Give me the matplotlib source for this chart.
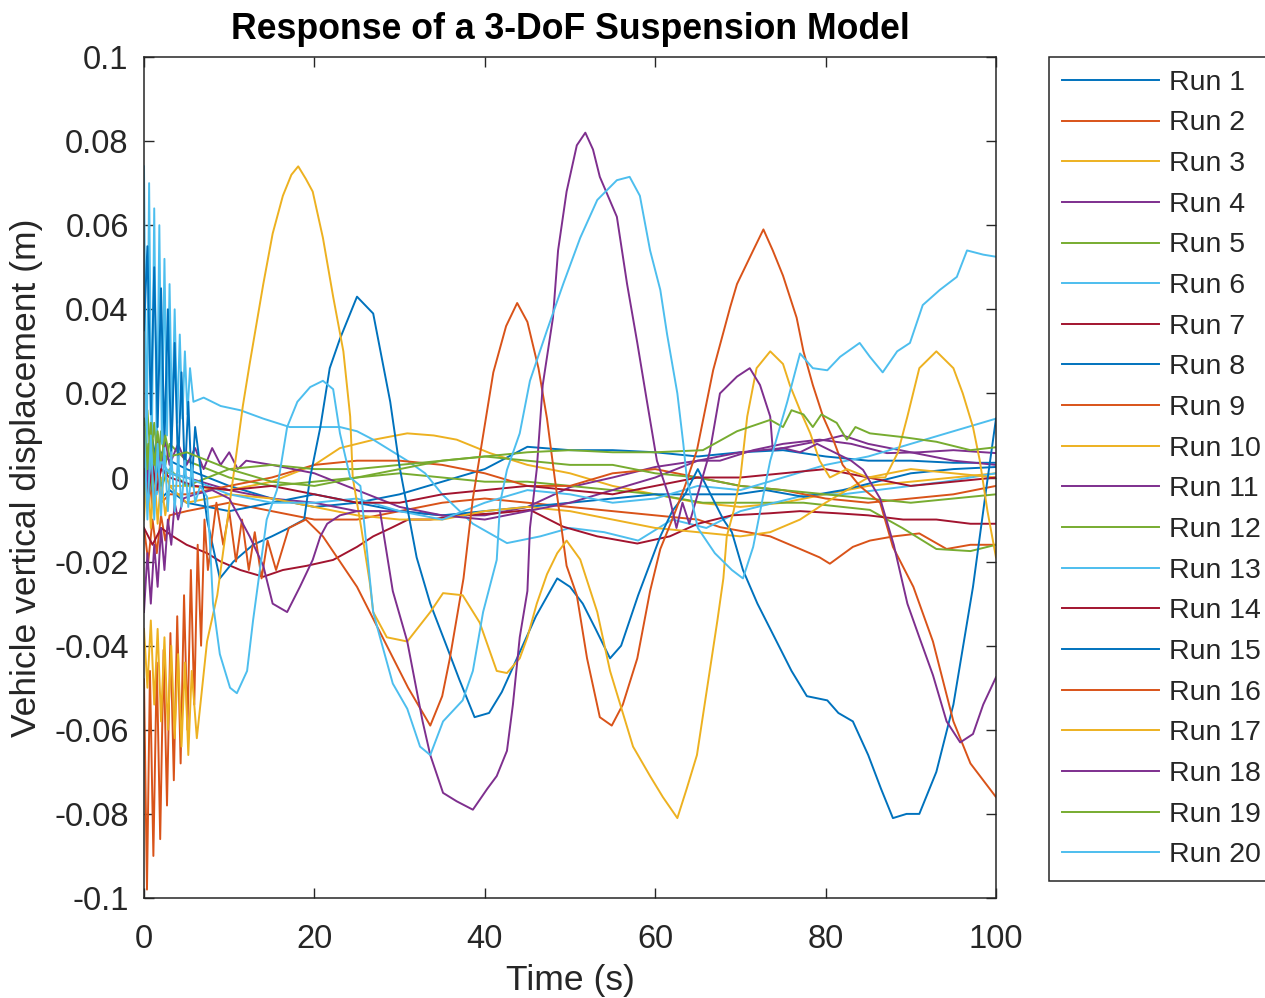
import matplotlib
matplotlib.use('Agg')
import matplotlib.pyplot as plt

# MATLAB default line colours
colors = ['#0072BD', '#D95319', '#EDB120', '#7E2F8E', '#77AC30', '#4DBEEE', '#A2142F']

# time (s) and displacement (m), one pair per run
t1 = [0, 0.5, 1, 1.5, 2, 3, 5, 10, 15, 20, 25, 30, 35, 40, 45, 50, 55, 60, 65, 70, 75, 80, 85, 90, 95, 100]
y1 = [0.008, 0.002, 0.009, 0.003, 0.006, 0.004, 0.002, -0.002, -0.005, -0.007, -0.006, -0.004, -0.001, 0.002, 0.0073,
      0.0065, 0.0065, 0.006, 0.005, 0.006, 0.0065, 0.005, 0.004, 0.004, 0.0035, 0.0035]

t2 = [0, 0.5, 1, 1.5, 2, 2.5, 3, 5, 10, 15, 20, 25, 30, 35, 40, 45, 50, 55, 60, 65, 67.6, 73.5, 77, 79.3, 80.5, 83.2,
      85.2, 88, 91, 94.2, 97, 100]
y2 = [-0.012, -0.020, -0.010, -0.018, -0.009, -0.015, -0.009, -0.008, -0.006, -0.008, -0.010, -0.010, -0.008, -0.006,
      -0.005, -0.006, -0.007, -0.008, -0.009, -0.010, -0.0118, -0.014, -0.017, -0.019, -0.0205, -0.0165, -0.015, -0.014,
      -0.0133, -0.017, -0.016, -0.016]

t3 = [0, 0.4, 0.8, 1.2, 1.6, 2, 2.5, 3, 5, 10, 15, 20, 23, 27, 30.9, 34, 36.7, 40.6, 45, 50, 55, 60, 65, 70, 75, 80, 85,
      90, 95, 100]
y3 = [0.002, -0.006, 0.004, -0.005, 0.003, -0.004, 0.001, -0.002, -0.002, -0.003, -0.001, 0.003, 0.007, 0.009, 0.0105,
      0.010, 0.009, 0.0058, 0.003, 0.001, -0.002, -0.004, -0.006, -0.007, -0.006, -0.004, -0.002, -0.001, 0.0, 0.001]

t4 = [0, 0.5, 1, 1.5, 2, 3, 5, 10, 15, 20, 25, 30, 35, 40, 45, 50, 55, 60, 65, 67.6, 71.5, 75, 79.3, 83, 87.2, 91, 95, 100]
y4 = [0.004, -0.004, 0.003, -0.003, 0.002, 0.001, 0.0, -0.003, -0.005, -0.006, -0.008, -0.008, -0.009, -0.009, -0.007,
      -0.0023, 0.0, 0.0025, 0.004, 0.004, 0.0065, 0.008, 0.009, 0.008, 0.0058, 0.006, 0.0065, 0.0058]

t5 = [0, 0.4, 0.8, 1.2, 1.6, 2, 2.5, 3, 5, 10, 15, 20, 25, 30, 35, 40, 45, 50, 55, 60, 65.6, 70, 77.4, 85.2, 89, 93, 97, 100]
y5 = [0.008, 0.016, 0.004, 0.013, 0.003, 0.011, 0.003, 0.008, 0.004, 0.0, -0.002, -0.001, 0.0, 0.001, 0.0, -0.001,
      -0.001, -0.002, -0.003, -0.004, -0.006, -0.006, -0.006, -0.0077, -0.012, -0.017, -0.0175, -0.016]

t6 = [0, 0.3, 0.6, 0.9, 1.2, 1.5, 1.8, 2.1, 2.4, 2.7, 3.0, 3.3, 3.6, 3.9, 4.2, 4.5, 4.8, 5.1, 5.4, 5.8, 7, 9, 11.3, 14,
      17.1, 20, 23, 25, 26.9, 28.5, 30.9, 33, 35, 38.6, 42.6, 46.5, 50, 54, 58, 62, 66, 70, 74, 78, 82, 86, 90, 94, 97, 100]
y6 = [0.074, 0.002, 0.070, 0.004, 0.064, 0.006, 0.060, 0.008, 0.052, 0.010, 0.046, 0.012, 0.040, 0.013, 0.034, 0.014,
      0.030, 0.015, 0.026, 0.018, 0.019, 0.017, 0.016, 0.014, 0.012, 0.012, 0.012, 0.011, 0.009, 0.007, 0.004, 0.001,
      -0.004, -0.011, -0.0156, -0.014, -0.012, -0.013, -0.015, -0.010, -0.012, -0.008, -0.006, -0.004, -0.004, -0.003,
      -0.002, -0.001, 0.0, 0.001]

t7 = [0, 1, 2, 3.4, 5, 7.4, 9, 11.3, 14, 16.3, 19.1, 22.2, 25, 26.9, 29, 31, 33.6, 37, 41.4, 45.3, 49.2, 53.2, 57.9,
      61.7, 65, 69, 73.5, 77, 81.3, 85, 89.1, 93, 97, 100]
y7 = [-0.012, -0.016, -0.012, -0.014, -0.016, -0.018, -0.020, -0.022, -0.0236, -0.022, -0.021, -0.0196, -0.0165, -0.014,
      -0.012, -0.010, -0.010, -0.009, -0.0085, -0.0077, -0.0117, -0.014, -0.0157, -0.014, -0.011, -0.009, -0.0085,
      -0.008, -0.0085, -0.009, -0.010, -0.010, -0.011, -0.011]

t8 = [0, 0.5, 1, 1.5, 2, 3, 5, 10, 15, 20, 25, 30, 35, 40, 45, 50, 55, 60, 65, 69.6, 73, 77.4, 82, 86, 90, 95, 100]
y8 = [-0.004, 0.006, -0.006, 0.004, -0.005, -0.003, -0.006, -0.008, -0.006, -0.004, -0.006, -0.008, -0.009, -0.008,
      -0.007, -0.006, -0.005, -0.004, -0.004, -0.004, -0.003, -0.0046, -0.003, -0.001, 0.001, 0.002, 0.0025]

t9 = [0, 0.5, 1, 1.5, 2, 3, 5, 10, 15, 20, 25, 30, 35, 40, 45, 50, 55, 60, 65, 70, 75, 80, 85, 90, 95, 100]
y9 = [-0.006, 0.002, -0.007, 0.001, -0.006, -0.004, -0.004, -0.002, 0.0, 0.003, 0.004, 0.004, 0.003, 0.001, -0.002,
      -0.002, 0.001, 0.002, 0.0, -0.002, -0.003, -0.005, -0.006, -0.005, -0.004, -0.002]

t10 = [0, 0.4, 0.8, 1.2, 1.6, 2, 2.5, 3, 5, 10, 15, 20, 25, 30, 35, 40, 45, 50, 55, 60, 65, 70, 73.5, 77, 80, 85, 90,
       95, 100]
y10 = [-0.010, 0.004, -0.012, 0.002, -0.011, 0.0, -0.009, -0.002, -0.006, -0.004, -0.005, -0.007, -0.009, -0.010,
       -0.010, -0.008, -0.007, -0.008, -0.010, -0.012, -0.013, -0.014, -0.013, -0.010, -0.006, 0.0, 0.002, 0.001, 0.0]

t11 = [0, 0.4, 0.8, 1.2, 1.6, 2, 2.5, 3, 4, 5, 6, 7, 8, 9, 10, 11, 12, 15, 20, 25, 30, 35, 40, 45, 50, 55, 60, 65, 70,
       75, 80, 82, 85, 90, 95, 100]
y11 = [0.012, -0.002, 0.011, 0.0, 0.010, 0.002, 0.009, 0.003, 0.008, 0.003, 0.007, 0.002, 0.007, 0.003, 0.006, 0.002,
       0.004, 0.003, 0.001, -0.003, -0.007, -0.009, -0.010, -0.008, -0.006, -0.003, 0.0, 0.004, 0.006, 0.007, 0.009,
       0.010, 0.008, 0.006, 0.004, 0.003]

t12 = [0, 0.5, 1, 1.5, 2, 3, 5, 10, 15, 20, 25, 30, 35, 40, 45, 50, 55, 60, 65, 70, 75, 80, 85, 90, 95, 100]
y12 = [-0.004, 0.008, -0.003, 0.006, -0.002, 0.002, -0.002, 0.002, 0.003, 0.002, 0.002, 0.003, 0.004, 0.005, 0.004,
       0.003, 0.003, 0.001, 0.0, -0.002, -0.003, -0.004, -0.005, -0.006, -0.005, -0.004]

t13 = [0, 0.5, 1, 1.5, 2, 3, 5, 10, 15, 20, 25, 30, 35, 40, 45, 50, 55, 60, 65, 70, 75, 80, 85, 90, 95, 100]
y13 = [0.004, -0.006, 0.006, -0.004, 0.004, 0.001, 0.0, -0.004, -0.006, -0.006, -0.005, -0.008, -0.010, -0.006, -0.003,
       -0.004, -0.006, -0.005, -0.002, -0.003, 0.0, 0.003, 0.005, 0.008, 0.011, 0.014]

t14 = [0, 0.5, 1, 1.5, 2, 3, 6, 10, 15, 20, 25, 30, 35, 40, 45, 50, 55, 60, 65, 70, 75, 80, 85, 90, 95, 100]
y14 = [0.002, -0.004, 0.003, -0.003, 0.002, 0.0, -0.002, -0.003, -0.002, -0.004, -0.006, -0.006, -0.004, -0.003,
       -0.002, -0.003, -0.004, -0.002, 0.0, 0.0, 0.001, 0.002, 0.0, -0.002, -0.001, 0.0]

t15 = [0, 0.4, 0.8, 1.2, 1.6, 2.0, 2.4, 2.8, 3.2, 3.6, 4.0, 4.4, 4.8, 5.2, 5.6, 6.0, 7.4, 8.9, 10.5, 12.8, 15, 17, 18.8,
       19.5, 20.7, 21.8, 23, 25, 26.9, 28.9, 30, 32, 33.6, 35.5, 37, 38.8, 40.5, 42, 44, 46, 48.5, 50, 51.5, 53, 54.7,
       56, 58, 60.6, 62, 63.5, 65, 66.5, 68, 69, 70.3, 72, 74, 76, 77.8, 80.2, 81.5, 83.2, 85, 86.5, 87.9, 89.5, 91, 93,
       95, 97.3, 98.9, 100]
y15 = [0.035, 0.055, 0.015, 0.050, 0.012, 0.045, 0.008, 0.040, 0.005, 0.032, 0.002, 0.025, 0.0, 0.018, -0.002, 0.012,
       -0.010, -0.024, -0.020, -0.016, -0.014, -0.012, -0.010, 0.0, 0.012, 0.026, 0.033, 0.043, 0.039, 0.018, 0.0025,
       -0.019, -0.030, -0.040, -0.048, -0.057, -0.056, -0.051, -0.042, -0.033, -0.024, -0.026, -0.030, -0.036, -0.043,
       -0.040, -0.028, -0.014, -0.008, -0.004, 0.002, -0.004, -0.010, -0.013, -0.022, -0.030, -0.038, -0.046, -0.052,
       -0.053, -0.056, -0.058, -0.066, -0.074, -0.081, -0.080, -0.080, -0.070, -0.054, -0.026, -0.002, 0.014]

t16 = [0, 0.35, 0.7, 1.1, 1.5, 1.9, 2.3, 2.7, 3.1, 3.5, 3.9, 4.3, 4.7, 5.1, 5.5, 5.9, 6.3, 6.7, 7.1, 7.5, 8.5, 9.3, 10,
       10.8, 11.5, 12.3, 13, 13.8, 14.5, 15.5, 17, 19, 21, 23, 25, 27, 29, 31, 33.6, 35, 35.9, 37.5, 38.6, 39.8, 41,
       42.5, 43.8, 45, 46.3, 47.3, 48.2, 49.6, 50.8, 52, 53.5, 54.9, 56.2, 57.9, 59.4, 60.6, 62, 63.5, 64.9, 66.8, 68.8,
       69.6, 71.5, 72.7, 73.8, 75, 76.6, 77.4, 78.5, 79.7, 80.9, 82, 84, 86.4, 87.9, 90.3, 92.6, 95, 97, 98.5, 100]
y16 = [-0.048, -0.098, -0.046, -0.090, -0.044, -0.086, -0.041, -0.078, -0.037, -0.072, -0.033, -0.068, -0.028, -0.060,
       -0.022, -0.054, -0.016, -0.040, -0.010, -0.022, -0.006, -0.016, -0.008, -0.020, -0.010, -0.022, -0.013, -0.024,
       -0.015, -0.022, -0.012, -0.010, -0.014, -0.020, -0.026, -0.034, -0.042, -0.050, -0.059, -0.052, -0.043, -0.024,
       -0.005, 0.010, 0.025, 0.036, 0.0415, 0.037, 0.026, 0.014, 0.0, -0.021, -0.028, -0.043, -0.057, -0.059, -0.054,
       -0.043, -0.027, -0.017, -0.010, -0.002, 0.0065, 0.0255, 0.0405, 0.046, 0.054, 0.059, 0.054, 0.048, 0.038, 0.030,
       0.022, 0.0145, 0.009, 0.003, -0.002, -0.006, -0.0165, -0.026, -0.039, -0.058, -0.068, -0.072, -0.076]

t17 = [0, 0.4, 0.8, 1.2, 1.6, 2.0, 2.4, 2.8, 3.2, 3.6, 4.0, 4.4, 4.8, 5.2, 5.6, 6.2, 7.4, 8.6, 9.8, 10.9, 11.6, 12.4,
       14, 15.1, 16.3, 17.3, 18.1, 19, 19.8, 21, 22.2, 23.4, 24.2, 24.5, 25.5, 26.5, 26.9, 28.5, 30.9, 33.6, 35.1, 37.4,
       39.4, 41.4, 42.6, 44.1, 45, 46.1, 47.3, 48.5, 49.6, 51.2, 53.2, 54.7, 55.9, 57.4, 59.4, 60.9, 62.6, 63.7, 64.9,
       66.1, 67.3, 68, 68.4, 69.2, 70, 70.8, 71.9, 73.5, 75, 75.8, 77, 78.2, 79.3, 80.5, 82.5, 85, 87, 88.5, 89.6, 91,
       93, 95, 96.1, 97.3, 98.1, 99, 100]
y17 = [-0.036, -0.050, -0.034, -0.054, -0.036, -0.058, -0.038, -0.060, -0.040, -0.062, -0.042, -0.064, -0.044, -0.066,
       -0.046, -0.062, -0.039, -0.028, -0.010, 0.0065, 0.017, 0.027, 0.046, 0.058, 0.067, 0.072, 0.074, 0.071, 0.068,
       0.057, 0.043, 0.030, 0.0145, 0.0, -0.012, -0.025, -0.032, -0.038, -0.039, -0.032, -0.0275, -0.028, -0.0345,
       -0.046, -0.0465, -0.043, -0.038, -0.030, -0.023, -0.018, -0.015, -0.0195, -0.032, -0.046, -0.054, -0.064, -0.071,
       -0.076, -0.081, -0.074, -0.066, -0.050, -0.034, -0.024, -0.014, -0.008, 0.0, 0.0145, 0.026, 0.030, 0.027, 0.022,
       0.016, 0.0105, 0.004, 0.0, 0.002, 0.0, 0.0, 0.006, 0.0145, 0.026, 0.030, 0.026, 0.020, 0.012, 0.004, -0.008,
       -0.019]

t18 = [0, 0.4, 0.8, 1.2, 1.6, 2.0, 2.4, 2.8, 3.2, 3.6, 4.0, 4.6, 6, 8, 10, 12.4, 14, 15.1, 16.8, 18.3, 19.8, 20.7, 21.5,
       23, 25, 27.7, 29.2, 30.9, 32.7, 33.6, 35.1, 36.7, 38.6, 40.3, 41.4, 42.6, 43.3, 44.1, 45, 45.3, 46.1, 46.8, 48,
       48.6, 49.6, 50.8, 51.8, 52.7, 53.5, 55.5, 56.7, 57.9, 59, 60.2, 61.7, 62.5, 63.2, 64, 66.4, 67.6, 69.6, 71.1,
       72.3, 73.5, 73.8, 75, 77, 79, 81, 83, 84.4, 86.4, 88, 89.6, 91, 92.6, 94.2, 95.8, 97.3, 98.5, 100]
y18 = [-0.032, -0.018, -0.030, -0.016, -0.026, -0.012, -0.022, -0.010, -0.016, -0.006, -0.010, -0.005, -0.004, -0.003,
       -0.005, -0.014, -0.021, -0.030, -0.032, -0.026, -0.0196, -0.014, -0.011, -0.009, -0.008, -0.008, -0.027, -0.039,
       -0.058, -0.066, -0.075, -0.077, -0.079, -0.074, -0.071, -0.065, -0.054, -0.038, -0.027, -0.012, 0.002, 0.022,
       0.038, 0.054, 0.068, 0.079, 0.082, 0.078, 0.0715, 0.062, 0.046, 0.032, 0.0185, 0.004, -0.005, -0.012, -0.006,
       -0.011, 0.006, 0.020, 0.024, 0.026, 0.022, 0.0145, 0.0065, 0.007, 0.006, 0.008, 0.006, 0.004, 0.0018, -0.005,
       -0.016, -0.030, -0.038, -0.047, -0.058, -0.063, -0.061, -0.054, -0.0475]

t19 = [0, 0.4, 0.8, 1.2, 1.6, 2, 2.5, 3, 5, 10, 15, 20, 25, 30, 35, 40, 45, 50, 55, 60, 65.6, 69.6, 73.5, 75, 76,
       77.4, 78.5, 79.5, 81.3, 82.5, 83.5, 85.2, 89.1, 93, 97, 100]
y19 = [0.014, 0.002, 0.013, 0.003, 0.011, 0.004, 0.010, 0.005, 0.006, 0.002, -0.001, -0.002, 0.0, 0.002, 0.004, 0.005,
       0.006, 0.0065, 0.006, 0.006, 0.0065, 0.011, 0.0137, 0.012, 0.016, 0.015, 0.012, 0.015, 0.013, 0.009, 0.012,
       0.0105, 0.0096, 0.0085, 0.0065, 0.0072]

t20 = [0, 0.4, 0.8, 1.2, 1.6, 2.0, 2.4, 2.8, 3.2, 3.6, 4.0, 4.4, 4.8, 5.2, 5.6, 6.0, 6.6, 7.4, 7.7, 8.1, 8.9, 10.1,
       10.9, 12.1, 12.8, 13.6, 14.4, 15.6, 16.8, 18, 19.5, 21, 22.2, 23, 24.2, 25.4, 26.9, 27.7, 29.2, 30.9, 32.4, 33.6,
       35.1, 37.4, 38.6, 39.8, 41.4, 41.8, 42.6, 44.1, 45.3, 47.3, 49.2, 51.2, 53.2, 55.5, 57, 58.2, 59.4, 60.6, 61.4,
       62.6, 63.3, 63.7, 65, 67, 69, 70.3, 71.5, 73.1, 73.5, 75.5, 77, 78.5, 80.2, 81.7, 84, 85.2, 86.7, 88.4, 89.9,
       91.4, 93.4, 95.4, 96.6, 98.5, 100]
y20 = [0.012, -0.010, 0.010, -0.010, 0.008, -0.009, 0.007, -0.008, 0.006, -0.008, 0.005, -0.007, 0.004, -0.007, 0.003,
       -0.006, -0.002, -0.0046, -0.014, -0.030, -0.042, -0.050, -0.0513, -0.046, -0.034, -0.022, -0.010, -0.003, 0.012,
       0.018, 0.0215, 0.023, 0.021, 0.0105, 0.0, -0.002, -0.032, -0.038, -0.049, -0.055, -0.064, -0.066, -0.058, -0.053,
       -0.046, -0.032, -0.0196, -0.006, 0.0018, 0.0105, 0.023, 0.035, 0.046, 0.057, 0.066, 0.0707, 0.0715, 0.067, 0.054,
       0.0446, 0.034, 0.020, 0.008, 0.0, -0.012, -0.018, -0.022, -0.024, -0.0165, 0.0, 0.004, 0.018, 0.0295, 0.026,
       0.0255, 0.0287, 0.032, 0.0287, 0.025, 0.030, 0.032, 0.041, 0.0446, 0.0477, 0.054, 0.053, 0.0525]

runs = [(t1, y1), (t2, y2), (t3, y3), (t4, y4), (t5, y5), (t6, y6), (t7, y7), (t8, y8), (t9, y9), (t10, y10),
        (t11, y11), (t12, y12), (t13, y13), (t14, y14), (t15, y15), (t16, y16), (t17, y17), (t18, y18),
        (t19, y19), (t20, y20)]

plt.rcParams['font.family'] = ['Liberation Sans', 'DejaVu Sans']
plt.rcParams['axes.unicode_minus'] = False

fig = plt.figure(figsize=(12.65, 9.98), dpi=100)
ax = fig.add_axes([144 / 1265, 100 / 998, 852 / 1265, 841 / 998])

for i, (t, y) in enumerate(runs):
    ax.plot(t, y, color=colors[i % 7], linewidth=1.4, label=f'Run {i + 1}')

ax.set_xlim(0, 100)
ax.set_ylim(-0.1, 0.1)
ax.set_xticks([0, 20, 40, 60, 80, 100])
yticks = [-0.1, -0.08, -0.06, -0.04, -0.02, 0, 0.02, 0.04, 0.06, 0.08, 0.1]
ax.set_yticks(yticks)
ax.set_yticklabels(['-0.1', '-0.08', '-0.06', '-0.04', '-0.02', '0', '0.02', '0.04', '0.06', '0.08', '0.1'])

dark = '#262626'
ax.tick_params(direction='in', length=7, width=1, top=True, right=True, labelsize=23.5, colors=dark)
ax.tick_params(axis='x', pad=19)
ax.tick_params(axis='y', pad=11)
for s in ax.spines.values():
    s.set_color(dark)
    s.set_linewidth(1.1)

ax.set_xlabel('Time (s)', fontsize=25.5, color=dark, labelpad=6)
ax.set_ylabel('Vehicle vertical displacement (m)', fontsize=25.5, color=dark, labelpad=8)
ax.set_title('Response of a 3-DoF Suspension Model', fontsize=25.7, fontweight='bold', pad=13)

leg = ax.legend(loc='upper left', bbox_to_anchor=(1049 / 1265, 1 - 57 / 998), bbox_transform=fig.transFigure,
                fontsize=20.5, frameon=True, fancybox=False, framealpha=1, edgecolor=dark,
                handlelength=3.4, handletextpad=0.35, labelspacing=0.515, borderpad=0.45, borderaxespad=0)
leg.get_frame().set_linewidth(1.1)
for txt in leg.get_texts():
    txt.set_color(dark)

fig.savefig('out.png', dpi=100)
